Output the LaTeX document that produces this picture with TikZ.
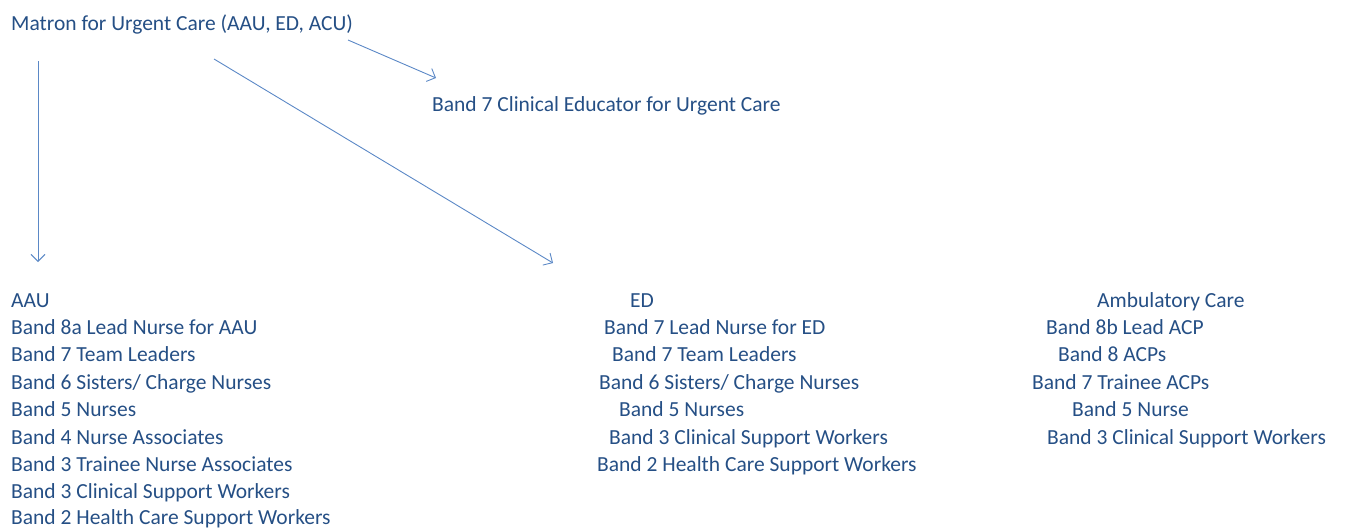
\documentclass[tikz,border=0pt]{standalone}
\usepackage{fontspec}
\setmainfont{Carlito}
\usetikzlibrary{arrows.meta}
\definecolor{txtblue}{HTML}{254F85}
\definecolor{arrblue}{HTML}{5B88C6}
\tikzset{
  lbl/.style={anchor=base west, inner sep=0pt, text=txtblue, font=\fontsize{21.5}{24}\selectfont},
  link/.style={draw=arrblue, line width=0.9pt, -{Straight Barb[length=7pt, width=14pt, line width=0.9pt]}}
}
\begin{document}
\begin{tikzpicture}[x=1pt, y=-1pt]
\useasboundingbox (0,0) rectangle (1346,530);

% top level
\node[lbl] (matron) at (11,30) {Matron for Urgent Care (AAU, ED, ACU)};
\node[lbl] (educ) at (432,111) {Band 7 Clinical Educator for Urgent Care};

% AAU column
\node[lbl] (aau)  at (11,307)   {AAU};
\node[lbl] (aau1) at (11,334.4) {Band 8a Lead Nurse for AAU};
\node[lbl] (aau2) at (11,361.8) {Band 7 Team Leaders};
\node[lbl] (aau3) at (11,389.2) {Band 6 Sisters/ Charge Nurses};
\node[lbl] (aau4) at (11,416.6) {Band 5 Nurses};
\node[lbl] (aau5) at (11,444)   {Band 4 Nurse Associates};
\node[lbl] (aau6) at (11,471.2) {Band 3 Trainee Nurse Associates};
\node[lbl] (aau7) at (11,498.2) {Band 3 Clinical Support Workers};
\node[lbl] (aau8) at (11,524.5) {Band 2 Health Care Support Workers};

% ED column
\node[lbl] (ed)  at (630,307)   {ED};
\node[lbl] (ed1) at (604,334.4) {Band 7 Lead Nurse for ED};
\node[lbl] (ed2) at (612,361.8) {Band 7 Team Leaders};
\node[lbl] (ed3) at (599,389.2) {Band 6 Sisters/ Charge Nurses};
\node[lbl] (ed4) at (619,416.6) {Band 5 Nurses};
\node[lbl] (ed5) at (609,444)   {Band 3 Clinical Support Workers};
\node[lbl] (ed6) at (597,471.2) {Band 2 Health Care Support Workers};

% Ambulatory care column
\node[lbl] (amb)  at (1097,307)   {Ambulatory Care};
\node[lbl] (amb1) at (1046,334.4) {Band 8b Lead ACP};
\node[lbl] (amb2) at (1058,361.8) {Band 8 ACPs};
\node[lbl] (amb3) at (1032,389.2) {Band 7 Trainee ACPs};
\node[lbl] (amb4) at (1072,416.6) {Band 5 Nurse};
\node[lbl] (amb5) at (1047,444)   {Band 3 Clinical Support Workers};

% connector end points
\coordinate (mA) at (38,61);
\coordinate (tA) at (38,262);
\coordinate (mE) at (214,59);
\coordinate (tE) at (553,263);
\coordinate (mC) at (348,40);
\coordinate (tC) at (436,78);

\draw[link] (mA) -- (tA);
\draw[link] (mE) -- (tE);
\draw[link] (mC) -- (tC);
\end{tikzpicture}
\end{document}
